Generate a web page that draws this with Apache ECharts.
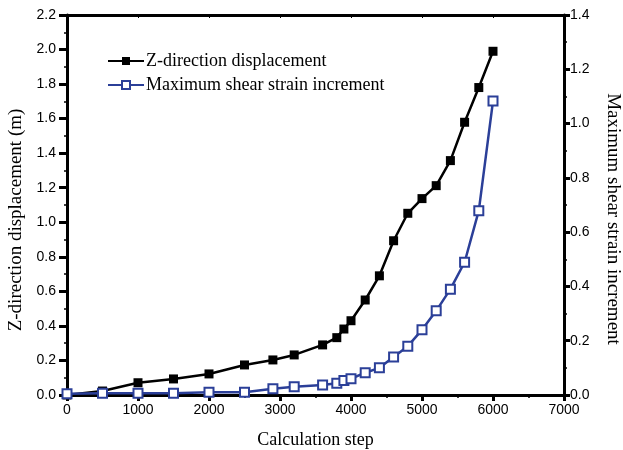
<!DOCTYPE html>
<html><head><meta charset="utf-8">
<script src="https://cdn.jsdelivr.net/npm/echarts@6/dist/echarts.min.js"></script>
<style>html,body{margin:0;padding:0;background:#fff}#c{width:623px;height:450px}</style>
</head><body><div id="c"></div>
<script>
var steps = [0,500,1000,1500,2000,2500,2900,3200,3600,3800,3900,4000,4200,4400,4600,4800,5000,5200,5400,5600,5800,6000];
var zDisp = [0,0.023,0.071,0.093,0.122,0.174,0.203,0.232,0.29,0.332,0.382,0.43,0.55,0.69,0.893,1.052,1.137,1.212,1.357,1.579,1.78,1.99];
var shearStrain = [0.005,0.006,0.006,0.006,0.01,0.01,0.023,0.03,0.037,0.043,0.053,0.06,0.082,0.10,0.14,0.18,0.24,0.31,0.39,0.489,0.679,1.083];
var leftTicks = [0,2.2,0.2];
var rightTicks = [0,1.4,0.2];
var xTicks = [0,7000,1000];

function pairs(xs, ys){ return xs.map(function(x,i){return [x, ys[i]];}); }
var serif = '"Liberation Serif", serif';
var sans = 'Arial, "Liberation Sans", sans-serif';
function aLine(){ return {show:true, onZero:false, lineStyle:{color:'#000', width:3}}; }
function lbl(margin, fmt){ return {fontFamily:sans, fontSize:14, color:'#000', margin:margin, formatter:fmt}; }
var chart = echarts.init(document.getElementById('c'));
chart.setOption({
  animation:false,
  textStyle:{fontFamily:sans},
  grid:{left:67, right:59, top:15, bottom:55, containLabel:false, outerBoundsMode:'none'},
  legend:{
    left:102, top:47, orient:'vertical', itemGap:6, itemWidth:36, itemHeight:10,
    textStyle:{fontFamily:serif, fontSize:18, color:'#000', padding:[0,0,0,-3]},
    data:['Z-direction displacement','Maximum shear strain increment']
  },
  xAxis:[{
    type:'value', min:xTicks[0], max:xTicks[1], interval:xTicks[2],
    name:'Calculation step', nameLocation:'middle', nameGap:36,
    nameTextStyle:{fontFamily:serif, fontSize:18, color:'#000'},
    axisLine:aLine(),
    axisTick:{show:true, length:6, lineStyle:{color:'#000', width:3}},
    minorTick:{show:true, splitNumber:2, length:3, lineStyle:{color:'#000', width:1.5}},
    axisLabel:lbl(8, function(v){return String(v);}),
    splitLine:{show:false}
  },{
    type:'value', position:'top', min:xTicks[0], max:xTicks[1], interval:xTicks[2],
    axisLine:aLine(),
    axisTick:{show:true, inside:true, length:3, lineStyle:{color:'#000', width:1}},
    axisLabel:{show:false}, splitLine:{show:false}
  }],
  yAxis:[{
    type:'value', position:'left', min:leftTicks[0], max:leftTicks[1], interval:leftTicks[2],
    name:'Z-direction displacement (m)', nameLocation:'middle', nameGap:41,
    nameTextStyle:{fontFamily:serif, fontSize:19, color:'#000', padding:[0,30,0,0]},
    axisLine:aLine(),
    axisTick:{show:true, length:8, lineStyle:{color:'#000', width:3}},
    minorTick:{show:true, splitNumber:2, length:3, lineStyle:{color:'#000', width:1.5}},
    axisLabel:lbl(11, function(v){return v.toFixed(1);}),
    splitLine:{show:false}
  },{
    type:'value', position:'right', min:rightTicks[0], max:rightTicks[1], interval:rightTicks[2],
    name:'Maximum shear strain increment', nameLocation:'middle', nameGap:39, nameRotate:-90,
    nameTextStyle:{fontFamily:serif, fontSize:19, color:'#000', padding:[0,0,0,28]},
    axisLine:aLine(),
    axisTick:{show:true, length:6, lineStyle:{color:'#000', width:3}},
    minorTick:{show:true, splitNumber:2, length:3, lineStyle:{color:'#000', width:1.5}},
    axisLabel:lbl(6, function(v){return v.toFixed(1);}),
    splitLine:{show:false}
  }],
  series:[{
    name:'Z-direction displacement', type:'line', xAxisIndex:0, yAxisIndex:0,
    data:pairs(steps, zDisp), symbol:'rect', symbolSize:9,
    lineStyle:{color:'#000', width:2.5}, itemStyle:{color:'#000', borderColor:'#000', borderWidth:0}
  },{
    name:'Maximum shear strain increment', type:'line', xAxisIndex:0, yAxisIndex:1,
    data:pairs(steps, shearStrain), symbol:'rect', symbolSize:9,
    lineStyle:{color:'#2b3f98', width:2.5}, itemStyle:{color:'#fff', borderColor:'#2b3f98', borderWidth:2}
  }]
});
</script></body></html>
